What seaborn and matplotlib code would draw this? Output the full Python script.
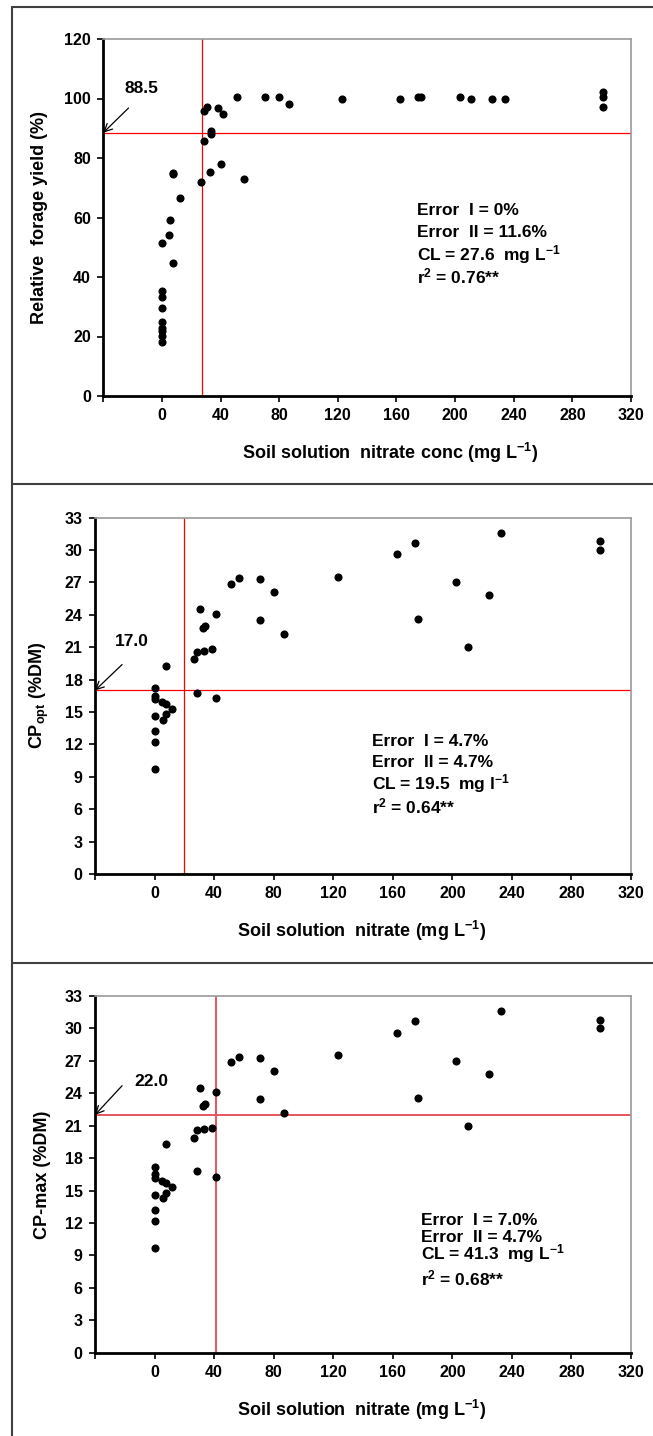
import matplotlib
matplotlib.use("Agg")
import matplotlib.pyplot as plt
from matplotlib.lines import Line2D
import seaborn as sns
import pandas as pd

# Panel 1: relative forage yield vs soil solution nitrate
nitrate_yield = [0, 0, 0, 0, 0, 0, 0, 0, 0,
                 4.6, 5.5, 7.5, 7.5, 7.5, 12.3,
                 26.9, 28.9, 28.9, 31, 32.8, 33.7, 33.7, 38.5, 40.3, 41.5, 51, 55.8, 70.4, 80, 86.8,
                 122.6, 162.3, 174.6, 176.9, 203.1, 210.6, 225.2, 233.9, 300.7, 300.7, 300.7]
rel_yield = [18.3, 20.2, 21.8, 22.7, 24.8, 29.6, 33.4, 35.4, 51.4,
             54.2, 59.0, 75.1, 74.6, 44.8, 66.7,
             71.9, 85.7, 95.8, 97.3, 75.3, 89.1, 88.2, 96.7, 78.1, 94.7, 100.4, 72.8, 100.4, 100.4, 98.0,
             99.9, 99.9, 100.4, 100.4, 100.4, 99.9, 99.9, 99.9, 102.1, 100.6, 97.1]

# Panels 2 and 3: crude protein vs soil solution nitrate
nitrate_cp = [0, 0, 0, 0, 0, 0, 0,
              4.7, 7.4, 5.6, 7.4, 11.5, 7.4,
              26.5, 28.5, 28.5, 30.6, 32.4, 33.7, 33.5, 38.9, 41.1, 41.1, 51.2, 56.4, 70.6, 70.6, 80, 86.7,
              122.9, 162.6, 175, 176.7, 202.4, 210.2, 224.3, 232.5, 299, 299]
cp_opt = [17.2, 16.5, 16.2, 14.6, 13.2, 12.2, 9.7,
          15.9, 15.7, 14.3, 14.8, 15.3, 19.3,
          19.9, 20.6, 16.8, 24.5, 22.8, 23.0, 20.7, 20.8, 24.1, 16.3, 26.9, 27.4, 27.3, 23.5, 26.1, 22.2,
          27.5, 29.6, 30.7, 23.6, 27.0, 21.0, 25.8, 31.6, 30.8, 30.0]
cp_max = list(cp_opt)

# critical levels and thresholds
cl_vals = [27.6, 19.5, 41.3]
thresh_vals = [88.5, 17.0, 22.0]
stats_text = [
    ["Error  I = 0%", "Error  II = 11.6%", r"CL = 27.6  mg L$^{-1}$", r"r$^{2}$ = 0.76**"],
    ["Error  I = 4.7%", "Error  II = 4.7%", r"CL = 19.5  mg l$^{-1}$", r"r$^{2}$ = 0.64**"],
    ["Error  I = 7.0%", "Error  II = 4.7%", r"CL = 41.3  mg L$^{-1}$", r"r$^{2}$ = 0.68**"],
]
ylabels = ["Relative  forage yield (%)", r"CP$_{opt}$ (%DM)", "CP-max (%DM)"]
xlabels = [r"Soil solution  nitrate conc (mg L$^{-1}$)",
           r"Soil solution  nitrate (mg L$^{-1}$)",
           r"Soil solution  nitrate (mg L$^{-1}$)"]

sns.set_style("ticks")
plt.rcParams["font.family"] = ["Liberation Sans", "DejaVu Sans"]
plt.rcParams["font.weight"] = "bold"
plt.rcParams["mathtext.fontset"] = "custom"
plt.rcParams["mathtext.rm"] = "Liberation Sans:bold"
plt.rcParams["mathtext.it"] = "Liberation Sans:bold"
plt.rcParams["mathtext.bf"] = "Liberation Sans:bold"
for key in ["text.color", "axes.labelcolor", "xtick.color", "ytick.color"]:
    plt.rcParams[key] = "black"

fig = plt.figure(figsize=(6.53, 14.36), dpi=100)

W, H = 653, 1436
boxes = [(103.3, 39, 631, 396), (95, 517.7, 631, 874), (95, 996, 631, 1352.7)]
axes = []
for (l, t, r, b) in boxes:
    axes.append(fig.add_axes([l / W, (H - b) / H, (r - l) / W, (b - t) / H]))

datasets = [
    pd.DataFrame({"x": nitrate_yield, "y": rel_yield}),
    pd.DataFrame({"x": nitrate_cp, "y": cp_opt}),
    pd.DataFrame({"x": nitrate_cp, "y": cp_max}),
]
ylims = [(0, 120), (0, 33), (0, 33)]
ysteps = [20, 3, 3]
red_cols = ["#ff0000", "#ff0000", "#e8545a"]
red_lw = [0.9, 0.9, 1.4]
stat_pos = [(174, [62.5, 55.0, 47.6, 40.3]),
            (146, [12.26, 10.31, 8.40, 6.24]),
            (178.7, [12.21, 10.67, 9.13, 6.88])]
ann_text_pos = [(-14, 103.5), (-15, 21.5), (-2, 25.1)]
ann_tail = [(-22.8, 96.8), (-21.8, 19.4), (-21.8, 24.7)]
ylab_x = [-0.105, -0.082, -0.082]
xlab_x = [0.543, 0.498, 0.498]

for i, ax in enumerate(axes):
    sns.scatterplot(data=datasets[i], x="x", y="y", ax=ax, color="black",
                    s=34, edgecolor="black", linewidth=0, zorder=3)
    ax.set_xlim(-40, 320)
    ax.set_ylim(*ylims[i])
    ax.set_xticks(range(-40, 321, 40))
    ax.set_xticklabels([""] + [str(v) for v in range(0, 321, 40)])
    yt = list(range(0, ylims[i][1] + 1, ysteps[i]))
    ax.set_yticks(yt)
    ax.set_yticklabels([str(v) for v in yt])
    ax.tick_params(axis="both", direction="out", length=4, width=1.2,
                   labelsize=11.5, pad=5, color="black", labelcolor="black")
    for lab in ax.get_xticklabels() + ax.get_yticklabels():
        lab.set_fontweight("bold")
    for side in ["left", "bottom"]:
        ax.spines[side].set_linewidth(2.0)
        ax.spines[side].set_color("black")
    for side in ["top", "right"]:
        ax.spines[side].set_visible(True)
        ax.spines[side].set_linewidth(1.2)
        ax.spines[side].set_color("#9a9a9a")

    ax.axvline(cl_vals[i], color=red_cols[i], lw=red_lw[i], zorder=2)
    ax.axhline(thresh_vals[i], color=red_cols[i], lw=red_lw[i], zorder=2)

    ax.annotate("", xy=(-40, thresh_vals[i]), xytext=ann_tail[i],
                arrowprops=dict(arrowstyle="->", color="black", lw=0.9,
                                mutation_scale=14, shrinkA=0, shrinkB=0))
    ax.text(ann_text_pos[i][0], ann_text_pos[i][1], f"{thresh_vals[i]:.1f}",
            fontsize=12.5, fontweight="bold", ha="center", va="center", color="black")

    sx, sys_ = stat_pos[i]
    for line, yy in zip(stats_text[i], sys_):
        ax.text(sx, yy, line, fontsize=12.5, fontweight="bold", ha="left", va="center",
                color="black")

    ax.set_xlabel(xlabels[i], fontsize=13, fontweight="bold", color="black")
    ax.set_ylabel(ylabels[i], fontsize=13, fontweight="bold", color="black")
    ax.xaxis.set_label_coords(xlab_x[i], -0.126)
    ax.yaxis.set_label_coords(ylab_x[i], 0.5)

# outer frame lines
frame_col = "#404040"
x_left = 11.5 / W
fig.add_artist(Line2D([x_left, x_left], [0, 1 - 7 / H], color=frame_col, lw=1.5))
for yy in [7, 484, 963]:
    fig.add_artist(Line2D([x_left, 1], [1 - yy / H, 1 - yy / H], color=frame_col, lw=1.5))

fig.savefig("out.png", dpi=100)
